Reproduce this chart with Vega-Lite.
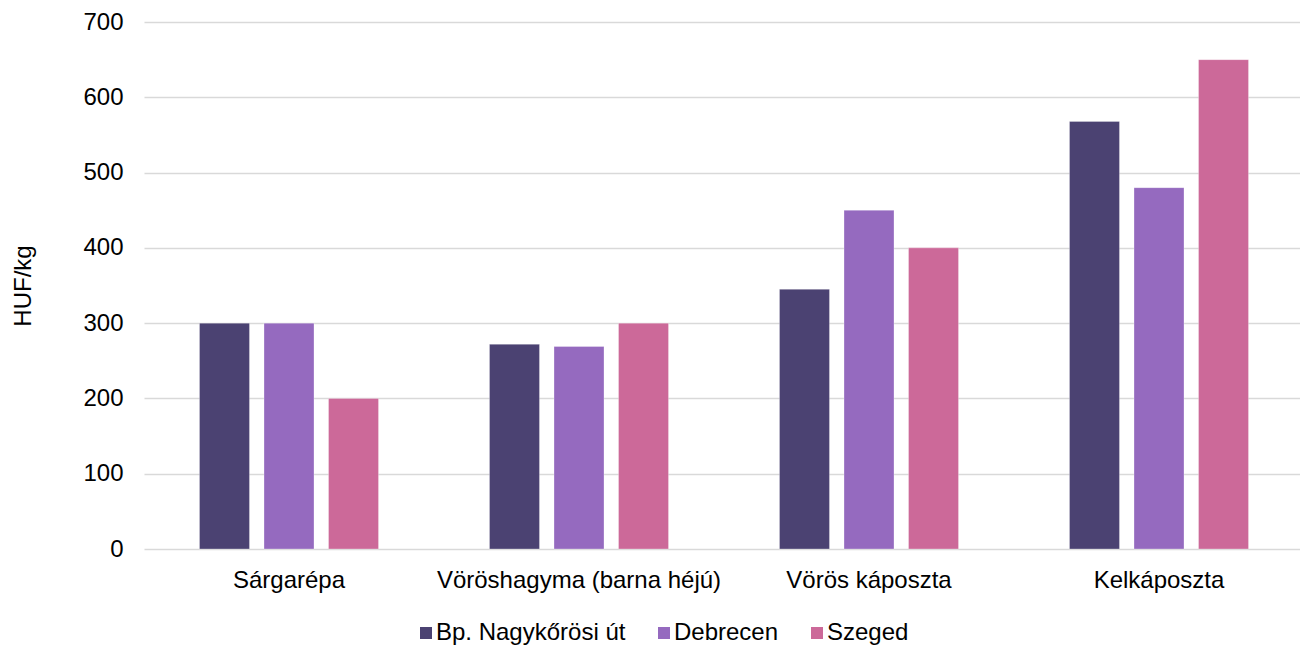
{
  "$schema": "https://vega.github.io/schema/vega-lite/v6.json",
  "width": 1160,
  "height": 527,
  "autosize": {"type": "none"},
  "padding": {"left": 144, "top": 22, "right": 0, "bottom": 96},
  "background": "white",
  "config": {
    "view": {"stroke": null},
    "font": "Liberation Sans",
    "axis": {"labelFont": "Liberation Sans", "titleFont": "Liberation Sans", "labelColor": "#000000", "titleColor": "#000000"},
    "legend": {"labelFont": "Liberation Sans", "labelColor": "#000000"}
  },
  "data": {
    "values": [
      {"termek": "Sárgarépa", "piac": "Bp. Nagykőrösi út", "ar": 300},
      {"termek": "Sárgarépa", "piac": "Debrecen", "ar": 300},
      {"termek": "Sárgarépa", "piac": "Szeged", "ar": 200},
      {"termek": "Vöröshagyma (barna héjú)", "piac": "Bp. Nagykőrösi út", "ar": 272},
      {"termek": "Vöröshagyma (barna héjú)", "piac": "Debrecen", "ar": 269},
      {"termek": "Vöröshagyma (barna héjú)", "piac": "Szeged", "ar": 300},
      {"termek": "Vörös káposzta", "piac": "Bp. Nagykőrösi út", "ar": 345},
      {"termek": "Vörös káposzta", "piac": "Debrecen", "ar": 450},
      {"termek": "Vörös káposzta", "piac": "Szeged", "ar": 400},
      {"termek": "Kelkáposzta", "piac": "Bp. Nagykőrösi út", "ar": 568},
      {"termek": "Kelkáposzta", "piac": "Debrecen", "ar": 480},
      {"termek": "Kelkáposzta", "piac": "Szeged", "ar": 650}
    ]
  },
  "mark": {"type": "bar", "stroke": "#ffffff", "strokeWidth": 0.5, "strokeOpacity": 0.6},
  "encoding": {
    "x": {
      "field": "termek",
      "type": "nominal",
      "sort": ["Sárgarépa", "Vöröshagyma (barna héjú)", "Vörös káposzta", "Kelkáposzta"],
      "scale": {"paddingInner": 0, "paddingOuter": 0},
      "axis": {"title": null, "labelAngle": 0, "labelFontSize": 24, "labelPadding": 19, "labelLimit": 0, "ticks": false, "domain": false, "labelBaseline": "top"}
    },
    "xOffset": {
      "field": "piac",
      "type": "nominal",
      "sort": ["Bp. Nagykőrösi út", "Debrecen", "Szeged"],
      "scale": {"paddingInner": 0.225, "paddingOuter": 0.86}
    },
    "y": {
      "field": "ar",
      "type": "quantitative",
      "scale": {"domain": [0, 700], "nice": false},
      "axis": {"title": "HUF/kg", "titleFontSize": 24, "titleFontWeight": "normal", "titlePadding": 47, "labelFontSize": 24, "labelPadding": 21, "labelOverlap": false, "ticks": false, "domain": false, "values": [0, 100, 200, 300, 400, 500, 600, 700], "gridColor": "#d9d9d9", "gridWidth": 1.3}
    },
    "color": {
      "field": "piac",
      "type": "nominal",
      "sort": ["Bp. Nagykőrösi út", "Debrecen", "Szeged"],
      "scale": {"domain": ["Bp. Nagykőrösi út", "Debrecen", "Szeged"], "range": ["#4b4272", "#956abf", "#cc6999"]},
      "legend": {"title": null, "orient": "none", "legendX": 270, "legendY": 599, "direction": "horizontal", "symbolType": "square", "symbolSize": 144, "symbolStrokeWidth": 0, "labelFontSize": 24, "labelLimit": 0, "labelOffset": -2, "columnPadding": 26, "padding": 0}
    }
  }
}
